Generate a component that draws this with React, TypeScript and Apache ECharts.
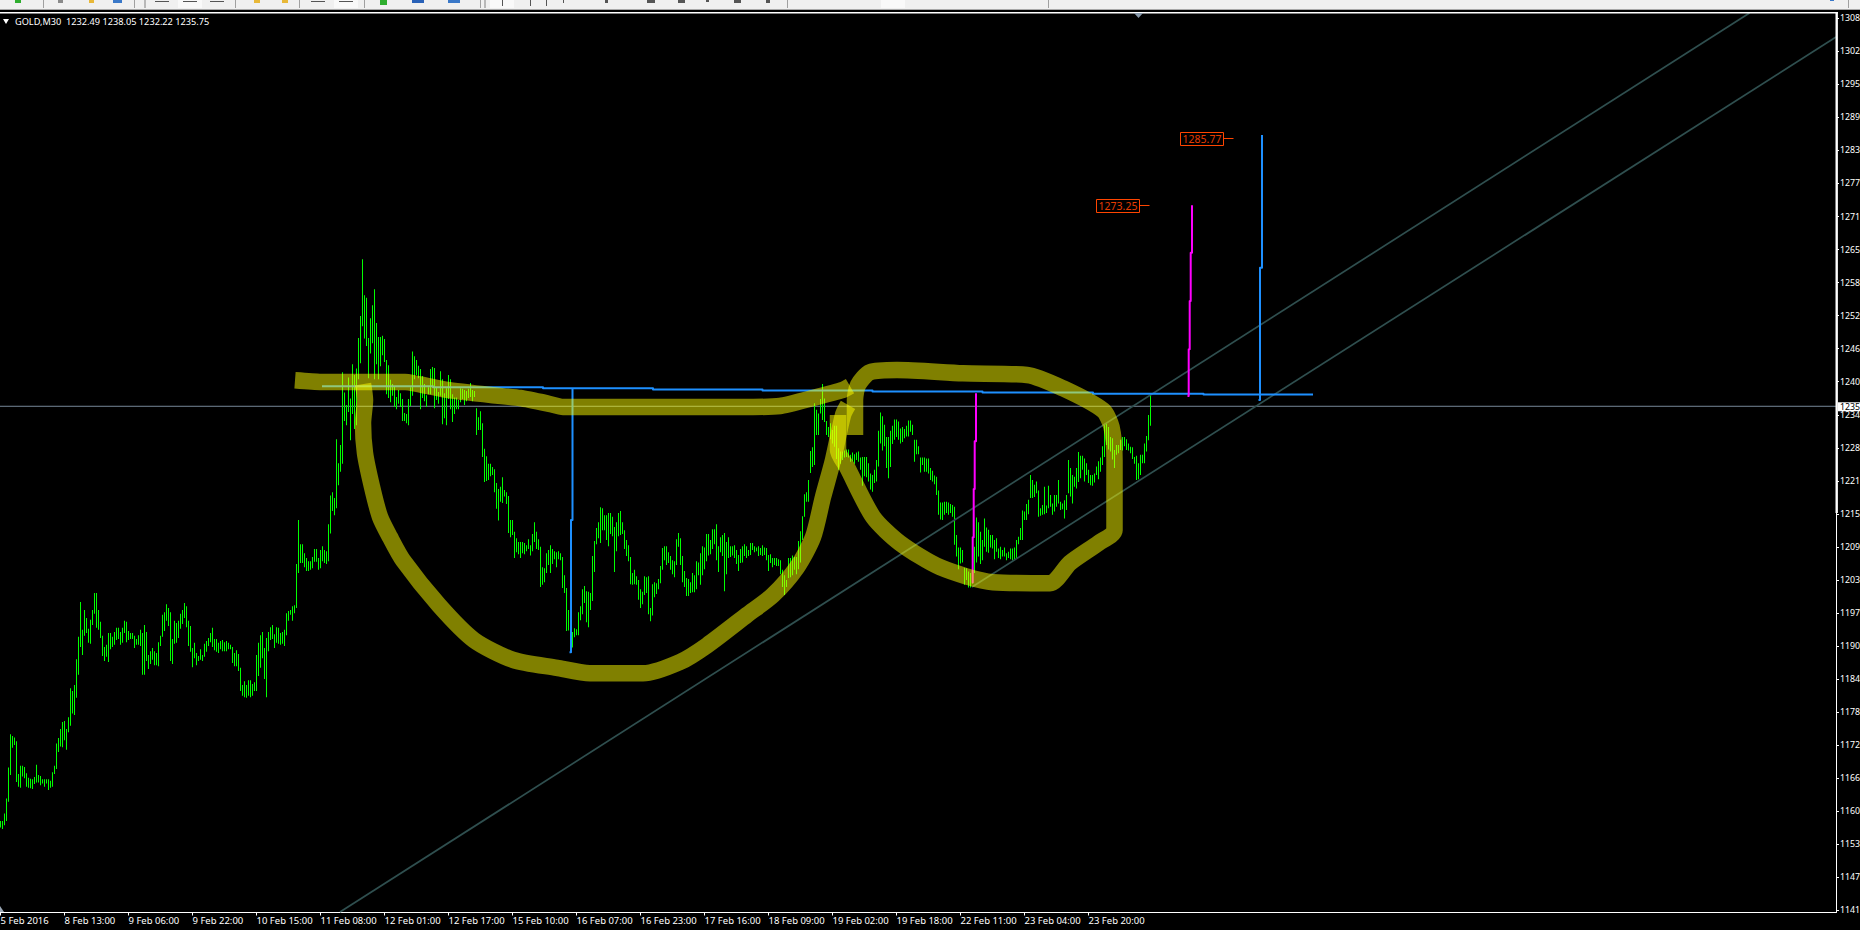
import React, { useEffect, useRef } from "react";
import * as echarts from "echarts";

const FONT = '"Noto Sans", Tahoma, sans-serif';
const HEADER = "GOLD,M30  1232.49 1238.05 1232.22 1235.75";
const timeLabels = ["5 Feb 2016","8 Feb 13:00","9 Feb 06:00","9 Feb 22:00","10 Feb 15:00","11 Feb 08:00","12 Feb 01:00","12 Feb 17:00","15 Feb 10:00","16 Feb 07:00","16 Feb 23:00","17 Feb 16:00","18 Feb 09:00","19 Feb 02:00","19 Feb 18:00","22 Feb 11:00","23 Feb 04:00","23 Feb 20:00"];
const BARS_PER_LABEL = 32;
const priceTicks = [1308.2,1302.03,1295.86,1289.69,1283.52,1277.35,1271.18,1265.01,1258.84,1252.67,1246.5,1240.33,1234.16,1228.0,1221.82,1215.65,1209.48,1203.31,1197.14,1190.97,1184.8,1178.63,1172.46,1166.29,1160.12,1153.95,1147.78,1141.61];
const currentPrice = 1235.75;

// [high, low] of each 30-minute bar, ten bars per row
const barsA = [
[1158.3,1157.1],[1158.3,1156.8],[1159.7,1157.5],[1162.5,1158.3],[1168.3,1161.9],[1174.5,1166.9],[1174.2,1172.0],[1173.9,1172.5],[1173.2,1165.6],[1167.1,1164.7],
[1168.6,1164.5],[1168.6,1166.6],[1168.4,1166.3],[1167.2,1164.7],[1166.4,1164.5],[1166.2,1164.4],[1166.1,1164.3],[1166.5,1165.2],[1168.8,1165.5],[1166.9,1165.5],
[1166.7,1165.0],[1166.1,1165.3],[1166.1,1164.7],[1166.1,1165.3],[1166.1,1164.1],[1165.8,1164.5],[1167.4,1164.7],[1168.6,1167.1],[1172.8,1168.0],[1173.8,1171.2],
[1175.5,1172.2],[1176.8,1172.1],[1177.0,1173.4],[1175.5,1171.6],[1177.7,1174.9],[1183.1,1176.1],[1182.6,1178.4],[1183.7,1178.1],[1188.5,1181.3],[1192.7,1185.6],
[1199.2,1190.8],[1194.0,1189.3],[1197.7,1192.9],[1196.2,1193.4],[1194.2,1191.6],[1195.9,1191.4],[1197.7,1194.9],[1200.9,1197.0],[1200.9,1194.4],[1197.7,1194.0],
[1195.5,1192.5],[1192.9,1189.1],[1190.8,1188.2],[1191.2,1189.0],[1193.4,1188.0],[1193.4,1190.4],[1192.7,1190.8],[1193.6,1191.2],[1194.4,1192.1],[1194.4,1192.3],
[1193.6,1191.2],[1194.4,1191.6],[1195.7,1193.4],[1195.5,1191.7],[1193.8,1192.1],[1193.4,1192.3],[1193.4,1192.3],[1192.9,1190.6],[1192.3,1191.2],[1193.0,1191.2],
[1194.0,1191.0],[1193.4,1185.6],[1194.9,1185.6],[1193.6,1188.2],[1189.3,1186.7],[1190.0,1187.6],[1190.6,1188.4],[1190.0,1187.4],[1189.7,1187.4],[1191.7,1187.2],
[1192.9,1191.0],[1196.8,1192.7],[1197.3,1193.8],[1198.8,1195.7],[1198.1,1194.7],[1197.3,1188.2],[1192.3,1187.6],[1195.7,1191.4],[1195.3,1191.6],[1195.7,1192.5],
[1197.0,1194.2],[1197.7,1195.1],[1199.0,1196.2],[1198.4,1194.5],[1195.7,1191.0],[1194.7,1189.9],[1190.6,1187.0],[1191.6,1188.7],[1189.7,1187.4],[1189.1,1188.2],
[1190.4,1188.4],[1189.3,1188.2],[1191.4,1189.0],[1191.9,1189.9],[1192.5,1191.0],[1193.4,1191.7],[1194.4,1190.8],[1192.3,1190.2],[1192.3,1189.9],[1191.6,1189.7],
[1191.9,1190.4],[1192.1,1190.0],[1191.7,1190.0],[1191.9,1190.0],[1191.6,1190.4],[1191.2,1190.4],[1190.8,1187.8],[1189.7,1187.2],[1190.2,1187.2],[1189.5,1186.3],
[1186.9,1182.6],[1183.7,1181.7],[1184.4,1181.4],[1183.7,1181.3],[1184.6,1181.7],[1184.6,1181.4],[1183.9,1181.7],[1184.2,1182.6],[1189.3,1182.6],[1191.6,1185.4],
[1193.0,1186.9],[1193.6,1188.7],[1190.6,1184.8],[1192.5,1181.4],[1193.6,1190.0],[1194.5,1192.1],[1194.9,1192.3],[1193.2,1190.6],[1194.5,1191.6],[1194.4,1191.4],
];
const barsB = [
[1193.4,1191.2],[1193.6,1191.4],[1194.0,1191.0],[1197.1,1193.0],[1197.5,1195.7],[1197.7,1196.8],[1198.4,1195.7],[1198.6,1197.1],[1206.3,1198.1],[1214.5,1204.6],
[1210.0,1206.5],[1210.0,1206.5],[1208.3,1205.7],[1207.4,1205.0],[1206.8,1205.0],[1206.8,1205.2],[1207.6,1205.5],[1209.1,1206.7],[1209.1,1206.7],[1207.4,1205.2],
[1208.9,1205.5],[1209.6,1206.8],[1208.9,1206.5],[1208.7,1206.3],[1213.7,1206.8],[1219.1,1212.0],[1219.7,1216.2],[1218.6,1215.4],[1229.6,1216.7],[1225.1,1221.0],
[1228.5,1223.5],[1242.1,1225.0],[1238.3,1233.0],[1236.0,1232.2],[1241.1,1234.7],[1237.2,1229.4],[1243.6,1234.3],[1241.6,1231.5],[1242.8,1232.2],[1248.5,1240.8],
[1252.6,1243.8],[1263.2,1250.7],[1256.5,1248.4],[1256.0,1247.0],[1248.5,1241.0],[1252.2,1245.6],[1254.6,1247.5],[1257.6,1240.8],[1251.3,1243.6],[1248.7,1240.8],
[1248.7,1243.2],[1248.9,1245.3],[1248.3,1244.0],[1244.4,1238.0],[1243.4,1237.3],[1240.7,1236.5],[1239.9,1237.7],[1239.5,1235.6],[1237.5,1235.2],[1238.8,1236.2],
[1238.2,1235.6],[1237.1,1233.0],[1234.5,1233.0],[1234.3,1232.6],[1237.1,1232.2],[1239.3,1235.8],[1246.0,1237.7],[1245.1,1240.8],[1244.4,1241.6],[1243.3,1241.0],
[1242.7,1235.2],[1241.4,1237.3],[1239.9,1236.7],[1237.8,1235.6],[1239.3,1238.0],[1242.7,1238.0],[1243.1,1239.5],[1242.9,1235.4],[1239.3,1236.9],[1238.4,1236.2],
[1242.3,1237.7],[1240.8,1232.4],[1238.2,1233.5],[1239.1,1232.2],[1241.6,1237.1],[1240.8,1235.2],[1238.0,1232.8],[1237.4,1234.3],[1237.4,1235.2],[1236.9,1235.2],
[1239.1,1236.5],[1239.0,1237.1],[1238.8,1236.0],[1238.6,1236.7],[1239.0,1237.3],[1240.1,1237.5],[1238.8,1236.7],[1238.6,1237.5],[1235.4,1230.4],[1233.7,1231.3],
[1234.8,1231.3],[1232.6,1226.3],[1227.8,1221.6],[1226.4,1221.8],[1225.0,1222.0],[1225.0,1222.7],[1224.4,1222.9],[1224.0,1219.7],[1221.4,1216.6],[1220.3,1214.4],
[1220.7,1217.9],[1222.5,1217.7],[1220.1,1218.9],[1219.7,1217.5],[1219.0,1212.1],[1214.5,1211.3],[1214.5,1211.7],[1212.3,1207.4],[1211.1,1208.5],[1210.4,1208.1],
[1210.4,1207.4],[1210.4,1208.3],[1210.2,1208.1],[1209.8,1208.7],[1210.9,1209.1],[1209.8,1207.9],[1211.9,1208.7],[1214.1,1210.4],[1212.3,1209.1],[1210.9,1208.9],
[1209.5,1202.0],[1205.7,1202.4],[1205.5,1202.9],[1208.3,1204.6],[1208.9,1206.1],[1209.8,1204.6],[1209.1,1206.3],[1208.7,1207.2],[1208.5,1205.7],[1208.7,1207.2],
[1208.3,1207.0],[1207.6,1201.8],[1204.2,1200.9],[1201.8,1193.8],[1197.7,1193.9],[1195.6,1189.9],[1193.6,1190.7],[1194.3,1192.6],[1194.1,1193.0],[1197.3,1193.0],
];
const barsC = [
[1198.4,1195.8],[1201.6,1196.9],[1202.2,1199.0],[1201.2,1195.4],[1201.1,1194.5],[1200.9,1197.7],[1207.8,1199.4],[1210.6,1204.8],[1213.0,1210.0],[1214.1,1211.1],
[1216.9,1210.2],[1216.7,1212.6],[1215.4,1212.6],[1215.4,1210.8],[1215.8,1209.6],[1215.8,1211.9],[1215.1,1211.5],[1213.2,1204.8],[1214.1,1208.7],[1215.8,1211.5],
[1216.2,1211.7],[1214.1,1211.9],[1212.6,1209.1],[1210.8,1207.8],[1209.8,1206.8],[1207.6,1202.5],[1204.6,1202.4],[1205.2,1202.5],[1204.0,1202.4],[1203.3,1199.6],
[1201.6,1198.1],[1201.1,1198.8],[1204.0,1200.5],[1203.8,1200.9],[1204.0,1196.9],[1198.1,1195.6],[1202.5,1196.7],[1202.9,1200.1],[1202.7,1200.7],[1203.5,1201.6],
[1205.9,1202.7],[1209.3,1205.2],[1209.6,1207.0],[1209.6,1206.1],[1208.5,1206.5],[1207.8,1205.2],[1207.0,1204.4],[1206.8,1203.8],[1210.9,1206.1],[1212.1,1209.5],
[1211.1,1206.1],[1207.8,1202.9],[1205.0,1202.0],[1203.7,1200.3],[1203.5,1200.3],[1202.9,1200.9],[1204.6,1201.0],[1204.2,1201.0],[1206.8,1201.6],[1206.6,1204.2],
[1208.3,1202.4],[1209.6,1204.2],[1209.4,1205.3],[1211.9,1206.8],[1211.9,1207.9],[1210.8,1208.1],[1212.8,1209.1],[1212.8,1210.0],[1213.7,1207.0],[1209.6,1204.8],
[1211.3,1208.5],[1211.7,1207.8],[1212.1,1201.2],[1210.4,1204.4],[1211.3,1207.4],[1209.6,1207.6],[1209.6,1207.9],[1209.8,1207.4],[1208.9,1206.3],[1208.0,1205.0],
[1209.1,1206.5],[1209.6,1206.6],[1210.0,1207.8],[1209.6,1207.4],[1208.9,1207.8],[1210.2,1208.0],[1210.2,1208.9],[1209.6,1208.5],[1209.4,1208.7],[1209.6,1207.8],
[1209.3,1208.0],[1209.8,1207.8],[1209.4,1208.0],[1209.3,1207.0],[1208.0,1205.0],[1208.1,1206.5],[1207.4,1205.7],[1207.4,1206.1],[1207.4,1205.9],[1207.2,1205.9],
[1207.0,1204.4],[1205.2,1202.0],[1204.2,1200.5],[1203.3,1202.0],[1207.4,1203.7],[1207.4,1203.8],[1207.9,1204.2],[1207.6,1205.2],[1207.6,1204.4],[1210.6,1205.3],
[1212.4,1206.6],[1215.2,1210.8],[1219.3,1215.1],[1219.7,1217.9],[1222.0,1217.9],[1227.4,1223.3],[1228.1,1224.4],[1236.3,1224.8],[1235.1,1230.4],[1234.4,1230.4],
[1237.1,1234.4],[1239.9,1233.2],[1237.2,1232.8],[1233.0,1230.4],[1231.9,1230.0],[1232.6,1229.6],[1231.3,1228.8],[1232.1,1228.2],[1232.1,1225.9],[1227.9,1223.9],
[1227.3,1225.0],[1227.3,1225.7],[1227.5,1226.2],[1227.7,1226.3],[1227.7,1226.2],[1226.7,1225.4],[1227.1,1225.5],[1226.8,1225.0],[1227.1,1225.7],[1227.3,1225.4],
];
const barsD = [
[1226.2,1223.9],[1226.3,1220.9],[1226.3,1222.7],[1226.3,1222.5],[1225.1,1221.7],[1223.2,1220.2],[1222.9,1219.8],[1223.9,1221.4],[1225.7,1221.7],[1231.2,1224.5],
[1234.6,1228.8],[1233.9,1227.5],[1232.3,1228.3],[1230.0,1224.2],[1230.0,1222.3],[1231.2,1224.4],[1232.1,1228.7],[1233.3,1229.5],[1233.3,1230.0],[1232.9,1229.5],
[1231.6,1228.8],[1231.9,1229.1],[1231.5,1229.8],[1232.1,1230.1],[1233.1,1230.1],[1233.1,1231.0],[1232.3,1230.4],[1229.5,1225.4],[1229.5,1226.8],[1228.3,1226.8],
[1226.2,1223.4],[1226.2,1224.8],[1226.2,1223.5],[1226.0,1223.5],[1226.0,1223.2],[1224.2,1222.0],[1223.7,1221.7],[1222.8,1221.2],[1222.6,1219.2],[1220.0,1215.5],
[1217.8,1214.6],[1217.8,1214.5],[1217.9,1215.5],[1217.9,1215.8],[1217.8,1215.5],[1217.5,1215.8],[1217.3,1215.1],[1217.0,1209.9],[1211.7,1207.7],[1209.4,1205.3],
[1209.4,1206.4],[1208.9,1206.6],[1205.6,1202.4],[1205.5,1203.3],[1204.9,1201.9],[1204.6,1201.9],[1208.6,1202.6],[1209.5,1204.6],[1215.0,1206.6],[1214.1,1207.7],
[1212.3,1206.3],[1210.8,1207.0],[1214.8,1209.5],[1213.1,1208.6],[1212.7,1208.4],[1211.7,1209.4],[1211.7,1209.2],[1210.8,1207.2],[1211.1,1208.6],[1209.2,1207.4],
[1209.5,1207.2],[1208.9,1207.7],[1209.4,1207.7],[1208.3,1207.0],[1208.6,1207.4],[1209.2,1207.2],[1209.2,1207.0],[1209.4,1207.2],[1210.8,1207.3],[1211.4,1210.0],
[1213.0,1210.8],[1216.3,1210.8],[1216.1,1214.5],[1217.5,1214.5],[1218.3,1215.6],[1222.9,1218.6],[1222.0,1218.6],[1221.1,1218.8],[1221.7,1219.5],[1220.0,1215.1],
[1216.7,1215.3],[1217.3,1215.5],[1220.7,1215.6],[1217.2,1215.8],[1220.9,1216.7],[1219.2,1217.0],[1217.6,1215.5],[1219.2,1216.1],[1219.2,1217.0],[1222.0,1217.6],
[1217.9,1216.4],[1217.6,1216.5],[1218.2,1214.8],[1219.2,1216.4],[1225.7,1219.5],[1224.2,1218.9],[1222.9,1217.6],[1222.6,1220.7],[1224.2,1220.4],[1227.2,1221.6],
[1226.5,1222.3],[1226.5,1223.9],[1226.0,1221.7],[1225.1,1222.9],[1223.9,1221.4],[1222.9,1221.0],[1222.9,1220.9],[1223.2,1221.5],[1224.5,1222.9],[1225.5,1222.1],
[1226.2,1223.5],[1228.3,1224.8],[1232.3,1226.3],[1232.6,1228.5],[1231.9,1227.7],[1230.0,1227.3],[1229.8,1225.8],[1227.6,1224.2],[1228.5,1226.7],[1228.5,1227.0],
[1229.5,1227.6],[1230.0,1227.5],[1230.0,1228.3],[1229.6,1227.6],[1228.8,1227.5],[1228.2,1227.0],[1228.1,1225.9],[1226.3,1225.0],[1226.5,1222.0],[1225.1,1222.1],
[1226.7,1222.9],[1226.7,1225.1],[1228.8,1225.1],[1230.2,1227.3],[1234.1,1229.4],[1237.9,1232.1],
];

// Channel lines, level line and price-target verticals: [bar number, price]
const channelLower = [[169.75,1141.3],[874.5,1309.2]];
const channelUpper = [[485.75,1202.0],[917.75,1304.7]];
const levelLine = [[160.75,1239.5],[216.25,1239.5],[216.25,1239.3],[271.25,1239.3],[271.25,1239.1],[326.25,1239.1],[326.25,1238.9],[381,1238.9],[381,1238.7],[436,1238.7],[436,1238.5],[491,1238.5],[491,1238.3],[546.25,1238.3],[546.25,1238.1],[601.5,1238.1],[601.5,1237.95],[656.25,1237.95]];
const cupDepth = [[284.5,1189.8],[285.25,1189.8],[285.25,1214.5],[286,1214.5],[286,1239.1]];
const targetBlue = [[629,1236.9],[629.75,1236.9],[629.75,1261.6],[630.75,1261.6],[630.75,1286.4]];
const handleDepth = [[486.1,1202.7],[486.1,1211.3],[486.6,1211.3],[486.6,1220.3],[487.1,1220.3],[487.1,1229.2],[487.75,1229.2],[487.75,1238.2]];
const targetMagenta = [[593.5,1237.65],[594.1,1237.65],[594.1,1246.4],[594.6,1246.4],[594.6,1255.4],[595.1,1255.4],[595.1,1264.4],[595.75,1264.4],[595.75,1273.3]];
const tagAnchors = [[616.25,1285.8],[574.25,1273.3]];
const tagTexts = ["1285.77","1273.25"];

// Hand-drawn highlighter strokes: [bar number, price]
const strokeRim = [[147.25,1240.6],[159.75,1240.3],[202.25,1240.3],[223.25,1238.8],[246.25,1237.8],[259.75,1237.3],[273.25,1236.3],[281.25,1235.6],[309.75,1235.6],[369.75,1235.6],[389.75,1235.8],[406.25,1237.3],[421.25,1238.8],[424.75,1239.5]];
const strokeCup = [[181.25,1239.9],[182.25,1236.9],[181.25,1232.6],[182.25,1227.0],[185.75,1220.7],[189.75,1215.1],[194.75,1211.3],[201.25,1207.0],[219.25,1198.6],[236.75,1192.1],[256.25,1188.4],[278.25,1186.9],[294.75,1185.9],[321.25,1185.9],[339.75,1188.0],[353.25,1191.1],[373.25,1196.8],[386.25,1200.5],[398.25,1205.7],[406.25,1211.3],[411.25,1218.8],[416.25,1225.7],[421.25,1234.1],[423.75,1236.0]];
const strokeHandle = [[427.25,1230.4],[427.25,1236.9],[428.75,1239.7],[434.75,1242.1],[448.25,1242.5],[481.25,1241.9],[513.25,1241.6],[531.25,1239.1],[551.25,1235.0],[555.5,1231.9],[557,1225.7],[557,1212.6],[549,1210.2],[534.75,1206.5],[524.75,1202.7],[496.25,1202.9],[469.75,1205.7],[449.75,1210.2],[436.25,1215.1],[423.25,1224.4],[418.75,1227.6],[418.75,1234.1]];

// Cropped terminal toolbar along the top edge: [x, y, w, h, colour]
const toolbarMarks: [number, number, number, number, string][] = [
  [15,0,6,3,"#2fae2f"],[43,0,1,8,"#a0a0a0"],[58,0,5,3,"#8a8a8a"],[89,0,5,3,"#e8b838"],[113,0,9,3,"#3a78c8"],[134,0,1,8,"#a0a0a0"],[144,0,2,8,"#b8b8b8"],
  [155,1,14,1,"#555555"],[178,0,24,8,"#f9f9f9"],[183,1,14,1,"#555555"],[210,1,14,1,"#555555"],[235,0,1,8,"#a0a0a0"],[254,0,6,3,"#e8b838"],[282,0,6,3,"#e8b838"],
  [299,0,1,8,"#a0a0a0"],[311,1,14,1,"#555555"],[334,0,24,8,"#f9f9f9"],[339,1,14,1,"#555555"],[364,0,1,8,"#a0a0a0"],[380,0,7,5,"#2fae2f"],[412,0,12,3,"#2a62b8"],[448,0,12,3,"#3a78c8"],
  [480,0,1,8,"#a0a0a0"],[484,0,2,8,"#b8b8b8"],[490,0,24,8,"#f9f9f9"],[502,0,1,6,"#555555"],[530,0,1,6,"#555555"],[546,0,1,6,"#555555"],[563,0,1,3,"#555555"],[605,0,3,3,"#555555"],
  [647,0,8,3,"#555555"],[678,0,7,3,"#555555"],[706,0,3,2,"#555555"],[734,0,7,3,"#555555"],[766,0,4,3,"#555555"],[787,0,1,8,"#a0a0a0"],[881,0,24,8,"#f9f9f9"],[1048,0,1,8,"#a0a0a0"],
  [1830,0,4,1,"#3a78c8"],[1848,0,1,8,"#a0a0a0"],
];

const bars = [...barsA, ...barsB, ...barsC, ...barsD].map((b, i) => [i, b[0], b[1]]);
const axisTicks = timeLabels.map((_, i) => i * BARS_PER_LABEL);

function line(data: number[][], color: string, width: number, z: number, opacity = 1, smooth: number | boolean = false) {
  return {
    type: "line", data, symbol: "none", silent: true, z, clip: true, animation: false, smooth,
    lineStyle: { color, width, opacity, cap: "butt", join: "round" },
  };
}

export default function App() {
  const ref = useRef<HTMLDivElement>(null);
  useEffect(() => {
    const chart = echarts.init(ref.current!, undefined, { renderer: "svg" });
    const lastX = 917.75;
    chart.setOption({
      animation: false,
      backgroundColor: "#000000",
      grid: { left: 0, top: 12.5, width: 1836, height: 900, outerBoundsMode: "none", containLabel: false },
      xAxis: {
        type: "value", min: -0.25, max: lastX, splitLine: { show: false },
        axisLine: { show: true, onZero: false, lineStyle: { color: "#ffffff", width: 1 } },
        axisTick: { show: true, customValues: axisTicks, length: 3, lineStyle: { color: "#ffffff" } },
        axisLabel: {
          customValues: axisTicks, color: "#ffffff", fontFamily: FONT, fontSize: 9.5, margin: 3, align: "left",
          formatter: (v: number) => timeLabels[Math.round(v / BARS_PER_LABEL)] ?? "",
        },
      },
      yAxis: {
        type: "value", position: "right", min: 1141.22, max: 1309.28, splitLine: { show: false },
        axisLine: { show: true, onZero: false, lineStyle: { color: "#ffffff", width: 1 } },
        axisTick: { show: true, customValues: priceTicks, length: 3, lineStyle: { color: "#ffffff" } },
        axisLabel: {
          customValues: priceTicks, color: "#ffffff", fontFamily: FONT, fontSize: 8.8, margin: 4, align: "left",
          formatter: (v: number) => String(Math.floor(v)),
        },
      },
      series: [
        line([[-0.25, currentPrice], [lastX, currentPrice]], "#778899", 1, 2),
        {
          type: "custom", silent: true, z: 3, clip: true, data: bars,
          renderItem: (_: any, api: any) => {
            const top = api.coord([api.value(0), api.value(1)]);
            const bottom = api.coord([api.value(0), api.value(2)]);
            return { type: "rect", shape: { x: Math.floor(top[0]), y: top[1], width: 1, height: bottom[1] - top[1] }, style: { fill: "#00ff00" } };
          },
        },
        line(channelLower, "#2f4f4f", 1.7, 4),
        line(channelUpper, "#2f4f4f", 1.7, 4),
        line(levelLine, "#1e90ff", 2, 4),
        line(cupDepth, "#1e90ff", 2, 4),
        line(targetBlue, "#1e90ff", 2, 4),
        line(handleDepth, "#ff00ff", 2, 4),
        line(targetMagenta, "#ff00ff", 2, 4),
        {
          type: "custom", silent: true, z: 4, clip: false, data: tagAnchors,
          renderItem: (params: any, api: any) => {
            const p = api.coord([api.value(0), api.value(1)]);
            const x = Math.round(p[0]) + 0.5, y = Math.round(p[1]) + 0.5;
            return {
              type: "group",
              children: [
                { type: "line", shape: { x1: x - 10, y1: y, x2: x, y2: y }, style: { stroke: "#ff4500", lineWidth: 1 } },
                { type: "rect", shape: { x: x - 53, y: y - 6, width: 43, height: 13 }, style: { fill: "none", stroke: "#ff4500", lineWidth: 1 } },
                { type: "text", style: { x: x - 31.5, y: y + 0.5, text: tagTexts[params.dataIndex], fill: "#e63c00", font: `10.5px ${FONT}`, align: "center", verticalAlign: "middle" } },
              ],
            };
          },
        },
        line(strokeRim, "#ffff00", 16.5, 5, 0.5, 0.15),
        line(strokeCup, "#ffff00", 16.5, 5, 0.5, 0.25),
        line(strokeHandle, "#ffff00", 16.5, 5, 0.5, 0.25),
        {
          type: "custom", silent: true, z: 6, clip: false, data: [[lastX, currentPrice]],
          renderItem: (_: any, api: any) => {
            const p = api.coord([api.value(0), api.value(1)]);
            return {
              type: "group",
              children: [
                { type: "rect", shape: { x: p[0] + 2, y: p[1] - 4, width: 24, height: 9 }, style: { fill: "#ffffff" } },
                { type: "text", style: { x: p[0] + 4, y: p[1] + 0.5, text: String(Math.floor(currentPrice)), fill: "#000000", font: `8.8px ${FONT}`, align: "left", verticalAlign: "middle" } },
              ],
            };
          },
        },
      ],
      graphic: [
        { type: "rect", z: 10, shape: { x: 0, y: 0, width: 1860, height: 9 }, style: { fill: "#f0f0f0" } },
        { type: "rect", z: 10, shape: { x: 0, y: 9, width: 1860, height: 1 }, style: { fill: "#a8a8a8" } },
        ...toolbarMarks.map((m) => ({ type: "rect", z: 11, shape: { x: m[0], y: m[1], width: m[2], height: m[3] }, style: { fill: m[4] } })),
        { type: "rect", z: 10, shape: { x: 0, y: 12, width: 1838, height: 1.4 }, style: { fill: "#ffffff" } },
        { type: "rect", z: 10, shape: { x: 1835.5, y: 12, width: 2.4, height: 501 }, style: { fill: "#ffffff" } },
        { type: "polygon", z: 10, shape: { points: [[1134, 13], [1143, 13], [1138.5, 18]] }, style: { fill: "#8899aa" } },
        { type: "polygon", z: 10, shape: { points: [[0, 906], [4, 912], [0, 912]] }, style: { fill: "#9aa7b5" } },
        { type: "polygon", z: 10, shape: { points: [[3, 19], [9, 19], [6, 24]] }, style: { fill: "#ffffff" } },
        { type: "text", z: 10, style: { x: 15, y: 21, text: HEADER, fill: "#ffffff", font: `9.2px ${FONT}`, verticalAlign: "middle" } },
      ],
    });
    return () => chart.dispose();
  }, []);
  return <div ref={ref} style={{ position: "fixed", left: 0, top: 0, width: 1860, height: 930, background: "#000" }} />;
}
